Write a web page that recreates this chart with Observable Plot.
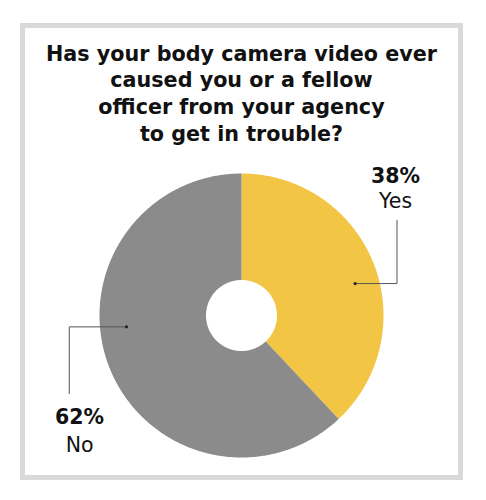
<!DOCTYPE html>
<html>
<head>
<meta charset="utf-8">
<script src="https://cdn.jsdelivr.net/npm/d3@7"></script>
<script src="https://cdn.jsdelivr.net/npm/@observablehq/plot@0.6"></script>
<style>
  html, body { margin: 0; padding: 0; background: #fff; }
  #page { position: relative; width: 486px; height: 500px; overflow: hidden; }
  #box { position: absolute; left: 20px; top: 23px; width: 443px; height: 457px; box-sizing: border-box; border: 5px solid #d9d9d9; }
  #title { position: absolute; left: 20px; width: 443px; top: 40.5px; text-align: center;
           font-family: "DejaVu Sans", sans-serif; font-weight: bold; font-size: 20.7px; line-height: 26.67px; color: #111; }
  #chart { position: absolute; left: 0; top: 0; }
</style>
</head>
<body>
<div id="page">
  <div id="box"></div>
  <div id="title">Has your body camera video ever<br>caused you or a fellow<br>officer from your agency<br>to get in trouble?</div>
  <div id="chart"></div>
</div>
<script>
// ---- data ----
const categories = ["Yes", "No"];
const values = [38, 62];
const colors = ["#F2C544", "#8B8B8B"];

// ---- annotation layout (callout anchors, in chart units where radius = 1) ----
const callouts = {
  Yes: { dot: [0.80, 0.225], elbowX: 1.095, lineEnd: 0.67, labelX: 1.085, pctY: 0.935, nameY: 0.755 },
  No:  { dot: [-0.81, -0.08], elbowX: -1.213, lineEnd: -0.55, labelX: -1.14, pctY: -0.765, nameY: -0.96 }
};
const innerRadius = 0.25;

// ---- build slices ----
const pie = d3.pie().sort(null).value(d => d)(values);
const slicePts = [];
pie.forEach((s, i) => {
  const cat = categories[i];
  const n = Math.max(2, Math.ceil((s.endAngle - s.startAngle) / (Math.PI / 360)));
  for (let k = 0; k <= n; k++) {
    const a = s.startAngle + (s.endAngle - s.startAngle) * k / n;
    slicePts.push({cat, x: Math.sin(a), y: Math.cos(a)});
  }
  for (let k = n; k >= 0; k--) {
    const a = s.startAngle + (s.endAngle - s.startAngle) * k / n;
    slicePts.push({cat, x: innerRadius * Math.sin(a), y: innerRadius * Math.cos(a)});
  }
});

const leaderPts = [];
const dots = [];
const labels = [];
categories.forEach((cat, i) => {
  const c = callouts[cat];
  leaderPts.push({cat, x: c.dot[0], y: c.dot[1]});
  leaderPts.push({cat, x: c.elbowX, y: c.dot[1]});
  leaderPts.push({cat, x: c.elbowX, y: c.lineEnd});
  dots.push({cat, x: c.dot[0], y: c.dot[1]});
  labels.push({cat, x: c.labelX, pctY: c.pctY, nameY: c.nameY, pct: values[i] + "%", name: cat});
});

const chart = Plot.plot({
  width: 486,
  height: 500,
  marginLeft: 99,
  marginRight: 103,
  marginTop: 173,
  marginBottom: 43,
  x: {domain: [-1, 1], axis: null},
  y: {domain: [-1, 1], axis: null},
  color: {domain: categories, range: colors},
  style: {fontFamily: "DejaVu Sans, sans-serif", background: "transparent", overflow: "visible"},
  marks: [
    Plot.line(slicePts, {x: "x", y: "y", z: "cat", fill: "cat", stroke: "none", curve: "linear"}),
    Plot.line(leaderPts, {x: "x", y: "y", z: "cat", stroke: "#555", strokeWidth: 1}),
    Plot.dot(dots, {x: "x", y: "y", r: 1.6, fill: "#222", stroke: "none"}),
    Plot.text(labels, {x: "x", y: "pctY", text: "pct", fontSize: 20.5, fontWeight: "bold", fill: "#111", textAnchor: "middle", lineAnchor: "bottom"}),
    Plot.text(labels, {x: "x", y: "nameY", text: "name", fontSize: 20.5, fill: "#111", textAnchor: "middle", lineAnchor: "bottom"})
  ]
});
document.getElementById("chart").appendChild(chart);
</script>
</body>
</html>
